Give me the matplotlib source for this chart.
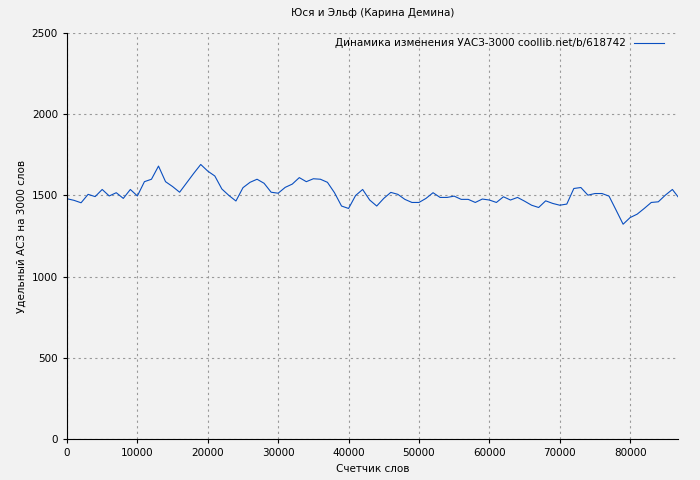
import matplotlib
matplotlib.use("Agg")
import matplotlib.pyplot as plt

words = [i * 1000 for i in range(87)] + [86800]
asz = [1480, 1470, 1455, 1507, 1493, 1537, 1497, 1517, 1482, 1537,
       1497, 1585, 1600, 1681, 1585, 1555, 1520, 1578, 1636, 1691,
       1650, 1620, 1540, 1500, 1466, 1548, 1581, 1600, 1575, 1520,
       1514, 1550, 1570, 1610, 1585, 1603, 1600, 1581, 1517, 1435,
       1420, 1500, 1537, 1472, 1435, 1482, 1519, 1507, 1476, 1457,
       1457, 1482, 1517, 1488, 1488, 1496, 1476, 1476, 1457, 1478,
       1472, 1457, 1492, 1472, 1488, 1465, 1440, 1426, 1467, 1451,
       1440, 1447, 1543, 1549, 1502, 1512, 1512, 1496, 1410, 1323,
       1364, 1385, 1420, 1457, 1461, 1502, 1537, 1492]

bg = "#f2f2f2"
fig = plt.figure(figsize=(7, 4.8), dpi=100, facecolor=bg)
ax = fig.add_axes([0.0957, 0.0854, 0.8729, 0.8456], facecolor=bg)

ax.plot(words, asz, color="#0a4fc0", linewidth=0.8,
        label="Динамика изменения УАСЗ-3000 coollib.net/b/618742")

ax.set_xlim(0, 86800)
ax.set_ylim(0, 2500)
ax.set_xticks(range(0, 86800, 10000))
ax.set_yticks(range(0, 2501, 500))
ax.grid(True, color="#999999", linestyle=(0, (2, 3)), linewidth=0.8)
ax.tick_params(labelsize=7.5, length=3)
for s in ["top", "right"]:
    ax.spines[s].set_visible(False)

ax.set_title("Юся и Эльф (Карина Демина)", fontsize=7.5, pad=12)
ax.set_xlabel("Счетчик слов", fontsize=7.5)
ax.set_ylabel("Удельный АСЗ на 3000 слов", fontsize=7.5)
ax.legend(loc="upper right", frameon=False, fontsize=7.5, markerfirst=False,
          borderaxespad=0.2, borderpad=0.3, handlelength=2.8,
          bbox_to_anchor=(0.985, 1.0))

fig.savefig("out.png", dpi=100, facecolor=bg)
